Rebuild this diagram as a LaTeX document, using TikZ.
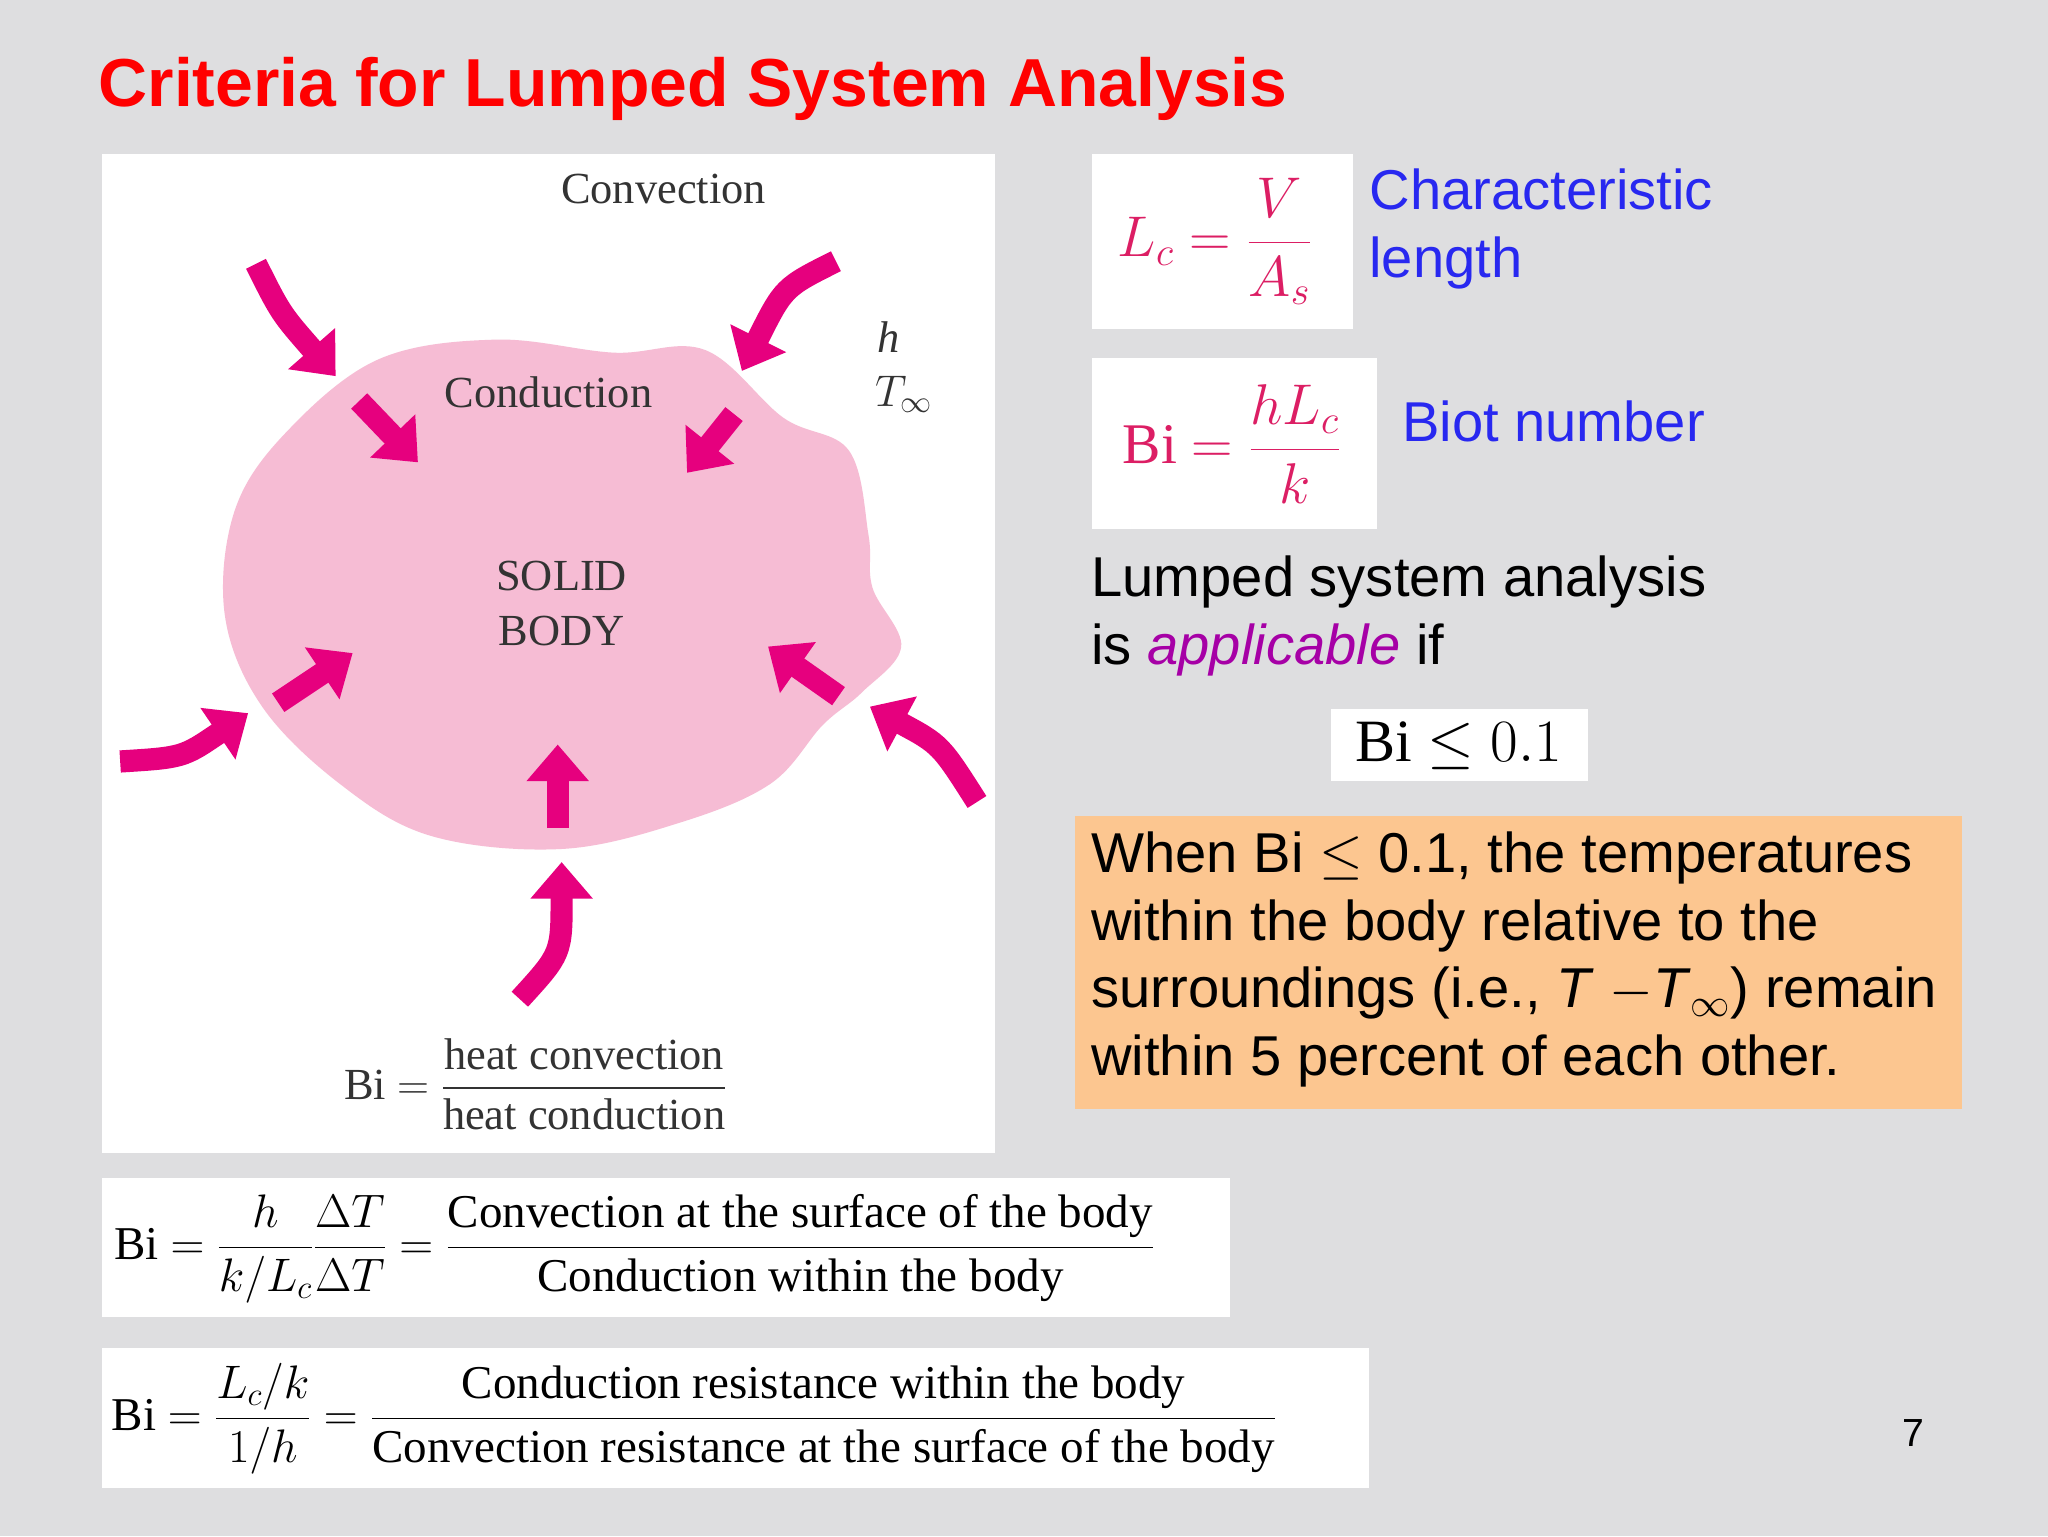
\RequirePackage{fix-cm}
\documentclass[tikz,border=0pt]{standalone}
\usepackage{amsmath}
\usepackage{fontspec}
\setmainfont{Liberation Serif}
\newfontfamily\arial{Liberation Sans}
\usetikzlibrary{arrows.meta}
\definecolor{mag}{RGB}{230,0,126}
\definecolor{blob}{RGB}{246,188,212}
\definecolor{bg}{RGB}{222,222,224}
\definecolor{org}{RGB}{252,198,144}
\definecolor{blu}{RGB}{40,40,240}
\definecolor{pk}{RGB}{220,30,100}
\tikzset{harr/.style={mag,line width=17pt,-{Triangle[width=46pt,length=28pt]}},
 lab/.style={font=\fontsize{34}{38}\selectfont,text=black!80},
 rtext/.style={font=\arial\fontsize{43}{52}\selectfont}}
\begin{document}
\begin{tikzpicture}[x=1pt,y=-1pt]
\fill[bg] (0,0) rectangle (1568,1176);
\useasboundingbox (0,0) rectangle (1568,1176);
\node[anchor=west,text=red,font=\arial\bfseries\fontsize{52}{58}\selectfont] (title) at (72,68) {Criteria for Lumped System Analysis};
\fill[white] (78,118) rectangle (762,883);
\fill[blob] plot[smooth cycle,tension=0.6] coordinates {(290,275) (380,260) (470,270) (540,268) (600,320) (650,345) (665,410) (668,450) (690,495) (660,530) (630,555) (590,600) (520,630) (430,650) (330,640) (260,600) (200,540) (172,470) (180,390) (220,330)};
\node[lab] (conv) at (508,145) {Convection};
\node[lab] (cond) at (420,300) {Conduction};
\node[lab,align=center] (solid) at (430,462) {SOLID\\[4pt]BODY};
\node[lab,font=\itshape\fontsize{34}{38}\selectfont] (h) at (680,258) {h};
\node[lab] (tinf) at (692,302) {$T_\infty$};
\node[lab] (bi1) at (410,830) {Bi $=\dfrac{\text{heat convection}}{\text{heat conduction}}$};
% arrows
\draw[harr] (196,202) .. controls (215,240) .. (257,288);
\draw[harr] (640,200) .. controls (600,220) .. (568,284);
\draw[harr] (275,307) -- (320,354);
\draw[harr] (562,317) -- (526,362);
\draw[harr] (213,538) -- (270,500);
\draw[harr] (92,583) .. controls (140,580) .. (190,546);
\draw[harr] (642,533) -- (588,495);
\draw[harr] (748,614) .. controls (720,570) .. (666,541);
\draw[harr] (427,634) -- (427,570);
\draw[harr] (398,765) .. controls (430,730) .. (430,660);
% right boxes
\fill[white] (836,118) rectangle (1036,252);
\node[text=pk,font=\fontsize{44}{48}\selectfont] (lc) at (930,185) {$L_c=\dfrac{V}{A_s}$};
\node[anchor=north west,text=blu,rtext,align=left] (cl) at (1045,126) {Characteristic\\length};
\fill[white] (836,274) rectangle (1054,405);
\node[text=pk,font=\fontsize{44}{48}\selectfont] (bi) at (943,340) {Bi $=\dfrac{hL_c}{k}$};
\node[anchor=west,text=blu,rtext] (bn) at (1070,323) {Biot number};
\node[anchor=north west,rtext,align=left] (lsa) at (832,422) {Lumped system analysis\\is \textcolor{violet!70!magenta}{\itshape applicable} if};
\fill[white] (1019,543) rectangle (1216,598);
\node[font=\fontsize{46}{50}\selectfont] (crit) at (1117,571) {Bi $\leq 0.1$};
\fill[org] (823,625) rectangle (1502,849);
\node[anchor=north west,rtext,align=left] (when) at (832,633) {When Bi $\le$ 0.1, the temperatures\\within the body relative to the\\surroundings (i.e., \textit{T} $-$\textit{T}$_\infty$) remain\\within 5 percent of each other.};
% bottom formulas
\fill[white] (78,902) rectangle (942,1008);
\node[anchor=west,font=\fontsize{36}{40}\selectfont] (f1) at (84,956) {Bi $=\dfrac{h}{k/L_c}\dfrac{\Delta T}{\Delta T}=\dfrac{\text{Convection at the surface of the body}}{\text{Conduction within the body}}$};
\fill[white] (78,1032) rectangle (1048,1139);
\node[anchor=west,font=\fontsize{36}{40}\selectfont] (f2) at (82,1086) {Bi $=\dfrac{L_c/k}{1/h}=\dfrac{\text{Conduction resistance within the body}}{\text{Convection resistance at the surface of the body}}$};
\node[font=\arial\fontsize{30}{32}\selectfont] (pg) at (1465,1097) {7};
\end{tikzpicture}
\end{document}
